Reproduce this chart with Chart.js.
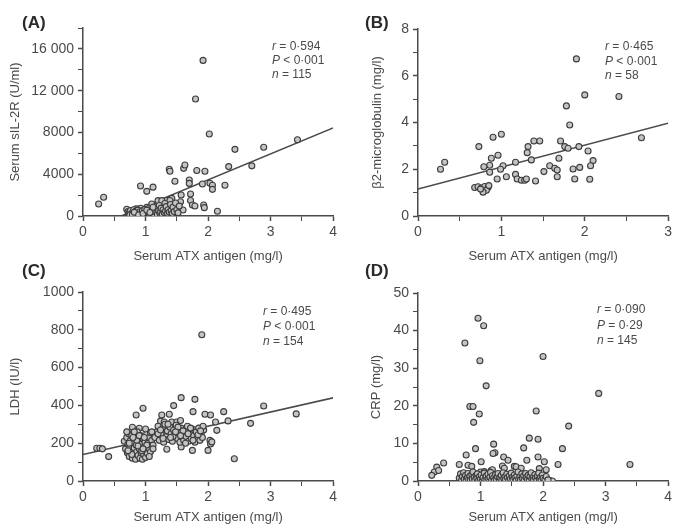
<!DOCTYPE html>
<html>
<head>
<meta charset="utf-8">
<script src="https://cdn.jsdelivr.net/npm/chart.js@4.4.0/dist/chart.umd.min.js"></script>
<style>
  body { margin: 0; background: #fff; }
  #wrap { position: relative; width: 675px; height: 528px; background: #fff; }
  #wrap canvas { position: absolute; }
</style>
</head>
<body>
<div id="wrap">
  <canvas id="chartA" width="340" height="264" style="left:0;top:0"></canvas>
  <canvas id="chartB" width="335" height="264" style="left:340px;top:0"></canvas>
  <canvas id="chartC" width="340" height="268" style="left:0;top:260px"></canvas>
  <canvas id="chartD" width="335" height="268" style="left:340px;top:260px"></canvas>
</div>
<script>
// (A) serum sIL-2R vs ATX antigen
const aX = [1.92, 1.80, 2.02, 3.43, 2.89, 2.43, 2.70, 2.33, 1.38, 1.39, 1.61, 1.63, 1.82, 1.95, 1.47, 1.70, 1.70, 1.91, 2.03, 2.07,
  2.07, 2.27, 0.92, 1.02, 1.12, 0.25, 0.33, 1.57, 1.56, 1.60, 1.72, 1.72, 1.75, 1.79, 1.93, 1.94, 2.15, 1.42, 1.34, 1.39,
  1.20, 1.26, 1.45, 1.17, 1.10, 1.02, 0.92, 0.85,
  0.70, 0.72, 0.74, 0.76, 0.78, 0.80, 0.81, 0.83, 0.84, 0.86, 0.87, 0.88, 0.90, 0.91, 0.93, 0.94, 0.95, 0.97, 0.98, 0.99,
  1.00, 1.01, 1.03, 1.04, 1.05, 1.06, 1.08, 1.09, 1.10, 1.11, 1.13, 1.14, 1.15, 1.16, 1.18, 1.19, 1.21, 1.22, 1.23, 1.24,
  1.25, 1.27, 1.28, 1.30, 1.31, 1.32, 1.33, 1.35, 1.36, 1.38, 1.40, 1.41, 1.43, 1.44, 1.46, 1.48, 1.50, 1.52, 1.54, 0.75,
  0.79, 0.82, 0.89, 0.96, 1.02, 1.07, 1.12]
const aY = [14900, 11200, 7850, 7300, 6580, 6380, 4800, 4730, 4480, 4280, 4560, 4880, 4350, 4280, 3320, 3450, 3120, 3070, 3130, 2940,
  2550, 2940, 2870, 2360, 2760, 1150, 1790, 2010, 1370, 580, 2110, 1480, 1050, 960, 1050, 800, 450, 1690, 1480, 1480,
  1470, 1470, 680, 680, 1150, 830, 740, 680,
  650, 420, 300, 520, 200, 380, 600, 250, 450, 150, 330, 560, 220, 410, 120, 300, 500, 180, 380, 620,
  260, 140, 450, 320, 700, 200, 520, 110, 380, 260, 600, 170, 430, 900, 300, 150, 520, 1000, 250, 400,
  750, 180, 600, 320, 1200, 450, 900, 260, 600, 380, 1100, 500, 250, 850, 420, 1250, 600, 300, 950, 100,
  120, 350, 90, 240, 560, 330, 840]
const aFitX = [0.61, 4]
const aFitY = [0, 8440]
const aStats = [['r', ' = 0·594'], ['P', ' < 0·001'], ['n', ' = 115']]

// (B) beta2-microglobulin
const bX = [1.90, 2.00, 2.41, 1.78, 1.82, 2.68, 1.71, 1.76, 1.80, 1.93, 2.04, 2.10, 2.07, 1.39, 1.46, 1.32, 1.31, 0.90, 1.00, 0.73,
  0.96, 0.88, 0.86, 0.79, 1.02, 0.99, 0.86, 0.27, 0.32, 1.17, 1.36, 1.58, 1.51, 1.64, 1.67, 1.69, 1.86, 1.94, 1.17, 1.19,
  1.24, 1.28, 1.30, 1.41, 1.06, 0.95, 1.67, 1.88, 2.06, 0.68, 0.72, 0.76, 0.80, 0.84, 0.82, 0.78, 0.85, 0.75]
const bY = [6.72, 5.18, 5.11, 4.71, 3.89, 3.35, 3.21, 2.97, 2.90, 2.97, 2.78, 2.37, 2.15, 3.21, 3.21, 2.97, 2.71, 3.37, 3.50, 2.97,
  2.60, 2.47, 2.17, 2.11, 2.15, 2.00, 1.87, 2.00, 2.30, 2.30, 2.40, 2.15, 1.90, 2.04, 1.97, 2.47, 2.01, 2.08, 1.78, 1.58,
  1.53, 1.53, 1.58, 1.50, 1.68, 1.58, 1.68, 1.58, 1.57, 1.22, 1.25, 1.20, 1.26, 1.22, 1.10, 1.02, 1.30, 1.15]
const bFitX = [0, 3]
const bFitY = [1.15, 3.97]
const bStats = [['r', ' = 0·465'], ['P', ' < 0·001'], ['n', ' = 58']]

// (C) LDH
const cX = [1.90, 1.57, 1.79, 1.45, 0.96, 0.85, 1.26, 1.76, 1.95, 2.04, 2.25, 2.89, 3.41, 2.68, 2.32, 2.12, 2.14, 2.03, 2.04, 2.00,
  2.42, 1.75, 1.57, 1.34, 0.41, 0.22, 0.27, 0.31, 0.79, 0.90, 1.38, 1.24, 1.30, 1.42, 1.50, 1.56, 2.06,
  0.66, 0.68, 0.70, 0.71, 0.72, 0.73, 0.74, 0.75, 0.76, 0.77, 0.78, 0.79, 0.80, 0.81, 0.82, 0.83, 0.84, 0.85, 0.86, 0.87,
  0.88, 0.89, 0.90, 0.91, 0.92, 0.93, 0.94, 0.95, 0.96, 0.97, 0.98, 0.99, 1.00, 1.01, 1.02, 1.03, 1.04, 1.05, 1.06, 1.08,
  1.10, 1.12, 1.14, 0.70, 0.74, 0.78, 0.82, 0.86, 0.90, 0.94, 0.98, 1.02, 1.06, 0.72, 0.80, 0.88, 0.96, 1.08, 1.12, 1.00,
  1.15, 1.18, 1.20, 1.22, 1.25, 1.27, 1.29, 1.31, 1.33, 1.35, 1.37, 1.39, 1.41, 1.43, 1.45, 1.47, 1.49, 1.51, 1.53, 1.55,
  1.57, 1.59, 1.61, 1.63, 1.65, 1.67, 1.69, 1.71, 1.73, 1.75, 1.77, 1.79, 1.81, 1.83, 1.85, 1.87, 1.89, 1.91, 1.93, 1.20,
  1.28, 1.36, 1.44, 1.52, 1.60, 1.68, 1.76, 1.84, 1.92, 1.24, 1.40, 1.56, 1.72, 1.88, 1.10, 1.48, 1.64]
const cY = [774, 441, 432, 399, 385, 349, 349, 367, 353, 349, 367, 397, 355, 305, 318, 312, 268, 215, 196, 162,
  118, 162, 180, 168, 129, 173, 173, 170, 284, 279, 353, 317, 312, 312, 312, 320, 207,
  210, 170, 230, 150, 195, 250, 130, 180, 215, 160, 240, 120, 200, 145, 175, 225, 115, 190, 155, 260,
  135, 210, 170, 120, 240, 150, 195, 115, 225, 140, 180, 205, 125, 165, 250, 145, 200, 175, 230, 155,
  215, 190, 240, 260, 200, 140, 260, 215, 240, 160, 230, 190, 130, 160, 230, 185, 170, 255, 170, 275,
  230, 260, 290, 215, 245, 275, 205, 300, 235, 265, 220, 285, 250, 210, 270, 240, 295, 225, 260, 205,
  280, 245, 215, 270, 235, 290, 210, 255, 225, 275, 240, 205, 260, 230, 280, 215, 250, 230, 270, 250,
  225, 300, 235, 285, 265, 250, 215, 245, 290, 270, 230, 240, 280, 265, 260, 260, 200]
const cFitX = [0, 4]
const cFitY = [140, 440]
const cStats = [['r', ' = 0·495'], ['P', ' < 0·001'], ['n', ' = 154']]

// (D) CRP
const dX = [0.96, 1.05, 0.75, 0.99, 1.09, 2.00, 2.89, 0.83, 0.88, 0.98, 0.89, 1.89, 2.41, 1.78, 1.92, 1.21, 1.23, 1.20, 0.92, 1.69,
  2.31, 0.77, 0.41, 1.37, 1.44, 1.74, 1.92, 2.02, 2.24, 3.39, 1.01, 0.80, 0.86, 0.66, 1.94, 2.05, 1.54, 0.30, 0.26, 0.22,
  1.17, 1.00, 1.06, 2.10, 2.15, 1.57, 1.65, 1.35, 1.38, 1.19, 0.33,
  0.66, 0.68, 0.70, 0.71, 0.73, 0.74, 0.76, 0.77, 0.79, 0.80, 0.81, 0.83, 0.84, 0.86, 0.87, 0.88, 0.90, 0.91, 0.93, 0.94,
  0.95, 0.97, 0.98, 1.00, 1.01, 1.03, 1.04, 1.06, 1.07, 1.09, 1.10, 1.12, 1.13, 1.15, 1.16, 1.18, 1.19, 1.21, 1.22, 1.24,
  1.25, 1.27, 1.28, 1.30, 1.31, 1.33, 1.34, 1.36, 1.37, 1.39, 1.40, 1.42, 1.43, 1.45, 1.46, 1.48, 1.49, 1.51, 1.52, 1.54,
  1.55, 1.57, 1.58, 1.60, 1.61, 1.63, 1.64, 1.66, 1.67, 1.69, 1.70, 1.72, 1.73, 1.75, 1.76, 1.78, 1.79, 1.81, 1.82, 1.84,
  1.85, 1.87, 1.88, 1.90, 1.91, 1.93, 1.94, 1.96, 1.97, 1.99, 2.00, 2.03, 2.05, 2.08]
const dY = [43.3, 41.3, 36.7, 32.0, 25.3, 33.1, 23.3, 19.8, 19.8, 17.8, 15.6, 18.6, 14.6, 11.4, 11.1, 9.8, 7.5, 7.3, 8.6, 8.8,
  8.6, 6.9, 4.8, 6.4, 5.5, 5.5, 6.4, 5.1, 4.4, 4.4, 5.1, 4.2, 3.9, 4.4, 3.3, 3.0, 3.9, 3.7, 2.4, 1.5,
  2.8, 2.4, 2.5, 0.2, 0.0, 3.8, 3.4, 4.0, 3.4, 3.0, 2.8,
  0.8, 1.9, 0.3, 1.2, 2.2, 0.5, 1.5, 0.1, 0.9, 2.0, 0.4, 1.3, 0.2, 1.7, 0.6, 2.4, 1.0, 0.2, 1.5, 0.7,
  1.9, 0.3, 1.1, 0.5, 1.6, 0.1, 0.9, 2.1, 0.4, 1.3, 0.2, 1.8, 0.6, 1.0, 2.3, 0.3, 1.4, 0.8, 0.1, 1.7,
  0.5, 1.2, 2.0, 0.3, 0.9, 1.5, 0.2, 2.2, 0.7, 1.1, 0.4, 1.8, 0.9, 0.1, 1.4, 0.6, 2.1, 1.0, 0.3, 1.6,
  0.8, 0.2, 1.3, 2.4, 0.5, 1.1, 0.3, 1.9, 0.7, 1.4, 0.2, 2.0, 0.9, 0.4, 1.5, 0.1, 1.2, 2.2, 0.6, 1.0,
  0.3, 1.7, 0.8, 0.2, 1.3, 2.1, 0.5, 1.0, 0.2, 1.6, 0.7, 0.4, 1.2, 0.3]
const dStats = [['r', ' = 0·090'], ['P', ' = 0·29'], ['n', ' = 145']]

const xTitle = 'Serum ATX antigen (mg/l)'
const fontFamily = "'Liberation Sans', Arial, sans-serif"
const inkColor = '#4a4a4a'

const panelText = {
  id: 'panelText',
  afterDraw(chart, args, opts) {
    const ctx = chart.ctx
    ctx.save()
    ctx.textBaseline = 'middle'
    ctx.fillStyle = '#2a2a2a'
    ctx.font = 'bold 17px ' + fontFamily
    ctx.fillText(opts.label, opts.labelX, opts.labelY)
    ctx.fillStyle = inkColor
    opts.stats.forEach((s, i) => {
      let x = opts.statX
      const y = opts.statY[i]
      ctx.font = 'italic 12px ' + fontFamily
      ctx.fillText(s[0], x, y)
      x += ctx.measureText(s[0]).width
      ctx.font = '12px ' + fontFamily
      ctx.fillText(s[1], x, y)
    })
    ctx.restore()
  }
}

function toPoints(xs, ys) {
  return xs.map((x, i) => ({ x: x, y: ys[i] }))
}

function fmt(v) {
  return v >= 10000 ? Math.floor(v / 1000) + ' ' + String(v % 1000).padStart(3, '0') : String(v)
}

function makeChart(id, cfg) {
  const datasets = [{
    type: 'scatter',
    data: toPoints(cfg.xs, cfg.ys),
    pointRadius: 3,
    pointBorderWidth: 1.1,
    pointBackgroundColor: '#c4c4c4',
    pointBorderColor: '#3c3c3c'
  }]
  if (cfg.fitX) {
    datasets.push({
      type: 'line',
      data: toPoints(cfg.fitX, cfg.fitY),
      borderColor: '#4a4a4a',
      borderWidth: 1.5,
      pointRadius: 0,
      fill: false
    })
  }
  return new Chart(document.getElementById(id), {
    type: 'scatter',
    data: { datasets: datasets },
    plugins: [panelText],
    options: {
      responsive: false,
      animation: false,
      events: [],
      layout: { padding: { top: cfg.padTop, right: cfg.padRight, left: 0, bottom: 0 } },
      plugins: {
        legend: { display: false },
        tooltip: { enabled: false },
        panelText: {
          label: cfg.label, labelX: cfg.labelX, labelY: cfg.labelY,
          stats: cfg.stats, statX: cfg.statX, statY: cfg.statY
        }
      },
      scales: {
        x: {
          type: 'linear',
          min: 0,
          max: cfg.xMax,
          border: { display: true, color: inkColor, width: 1.5 },
          grid: {
            drawOnChartArea: false,
            tickLength: 5,
            tickColor: inkColor,
            tickWidth: (c) => Number.isInteger(c.tick.value) ? 1.5 : 1
          },
          ticks: {
            stepSize: 0.5,
            autoSkip: false,
            maxRotation: 0,
            padding: 3,
            color: inkColor,
            font: { family: fontFamily, size: 14 },
            callback: (v) => Number.isInteger(v) ? String(v) : ''
          },
          title: {
            display: true,
            text: xTitle,
            color: inkColor,
            font: { family: fontFamily, size: 13 },
            padding: { top: 0, bottom: cfg.xTitlePad }
          },
          afterFit: (s) => { s.height = cfg.xAxisH }
        },
        y: {
          type: 'linear',
          min: 0,
          max: cfg.yMax,
          border: { display: true, color: inkColor, width: 1.5 },
          grid: {
            drawOnChartArea: false,
            tickLength: 5,
            tickColor: inkColor,
            tickWidth: (c) => c.tick.value % cfg.yMajor === 0 ? 1.5 : 1
          },
          ticks: {
            stepSize: cfg.yStep,
            autoSkip: false,
            padding: 4,
            color: inkColor,
            font: { family: fontFamily, size: 14 },
            callback: (v) => (v % cfg.yMajor === 0 && v <= cfg.yLabelMax) ? fmt(v) : ''
          },
          title: {
            display: true,
            text: cfg.yTitle,
            color: inkColor,
            font: { family: fontFamily, size: 13 },
            padding: { top: cfg.yTitlePad, bottom: 0 }
          },
          afterFit: (s) => { s.width = cfg.yAxisW }
        }
      }
    }
  })
}

makeChart('chartA', {
  xs: aX, ys: aY, fitX: aFitX, fitY: aFitY, stats: aStats,
  label: '(A)', labelX: 22, labelY: 23, statX: 272, statY: [47, 61, 75],
  xMax: 4, yMax: 18000, yStep: 2000, yMajor: 4000, yLabelMax: 16000,
  yTitle: 'Serum sIL-2R (U/ml)',
  padTop: 28, padRight: 5, yAxisW: 83, xAxisH: 48, xTitlePad: 0, yTitlePad: 8
})

makeChart('chartB', {
  xs: bX, ys: bY, fitX: bFitX, fitY: bFitY, stats: bStats,
  label: '(B)', labelX: 25, labelY: 23, statX: 265, statY: [47, 62, 76],
  xMax: 3, yMax: 8, yStep: 1, yMajor: 2, yLabelMax: 8,
  yTitle: 'β2-microglobulin (mg/l)',
  padTop: 29, padRight: 6, yAxisW: 78, xAxisH: 48, xTitlePad: 0, yTitlePad: 30
})

makeChart('chartC', {
  xs: cX, ys: cY, fitX: cFitX, fitY: cFitY, stats: cStats,
  label: '(C)', labelX: 22, labelY: 11, statX: 263, statY: [52, 67, 82],
  xMax: 4, yMax: 1000, yStep: 100, yMajor: 200, yLabelMax: 1000,
  yTitle: 'LDH (IU/l)',
  padTop: 32, padRight: 5, yAxisW: 83, xAxisH: 47, xTitlePad: 3, yTitlePad: 8
})

makeChart('chartD', {
  xs: dX, ys: dY, fitX: null, fitY: null, stats: dStats,
  label: '(D)', labelX: 25, labelY: 11, statX: 257, statY: [50, 66, 81],
  xMax: 4, yMax: 50, yStep: 5, yMajor: 10, yLabelMax: 50,
  yTitle: 'CRP (mg/l)',
  padTop: 33, padRight: 6, yAxisW: 78, xAxisH: 47, xTitlePad: 3, yTitlePad: 29
})
</script>
</body>
</html>
